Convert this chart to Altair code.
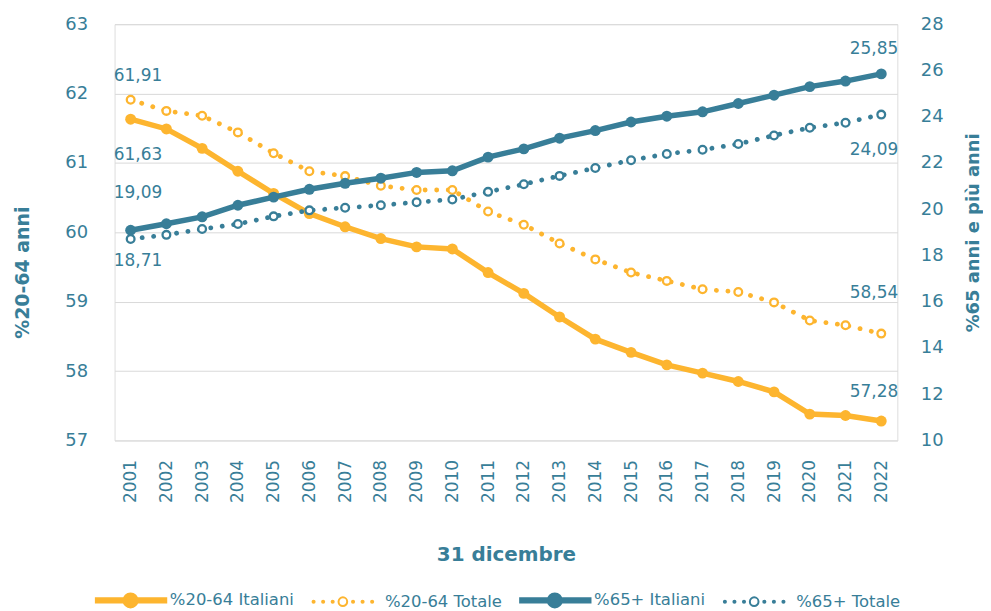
import altair as alt
import pandas as pd

# ---------------- data ----------------
years = [2001, 2002, 2003, 2004, 2005, 2006, 2007, 2008, 2009, 2010, 2011,
         2012, 2013, 2014, 2015, 2016, 2017, 2018, 2019, 2020, 2021, 2022]
ita_2064 = [61.63, 61.49, 61.21, 60.88, 60.56, 60.27, 60.08, 59.91, 59.79, 59.76, 59.42,
            59.12, 58.78, 58.46, 58.27, 58.09, 57.97, 57.85, 57.70, 57.38, 57.36, 57.28]
tot_2064 = [61.91, 61.75, 61.68, 61.44, 61.14, 60.88, 60.81, 60.67, 60.61, 60.61, 60.30,
            60.11, 59.84, 59.61, 59.42, 59.30, 59.18, 59.14, 58.99, 58.73, 58.66, 58.54]
ita_65 = [19.09, 19.37, 19.67, 20.17, 20.52, 20.86, 21.12, 21.34, 21.59, 21.66, 22.25,
          22.61, 23.07, 23.40, 23.77, 24.02, 24.21, 24.57, 24.93, 25.30, 25.54, 25.85]
tot_65 = [18.71, 18.89, 19.14, 19.36, 19.69, 19.95, 20.06, 20.17, 20.30, 20.42, 20.75,
          21.08, 21.44, 21.78, 22.12, 22.39, 22.57, 22.82, 23.19, 23.52, 23.74, 24.09]
series_names = ["%20-64 Italiani", "%20-64 Totale", "%65+ Italiani", "%65+ Totale"]
left_ticks = [57, 58, 59, 60, 61, 62, 63]
right_ticks = [10, 12, 14, 16, 18, 20, 22, 24, 26, 28]

# ---------------- styles ----------------
ORANGE = "#FDB52F"
TEAL = "#387E98"
GRID = "#D9D9D9"
FONT = "DejaVu Sans"

rows = []
for name, vals in zip(series_names, [ita_2064, tot_2064, ita_65, tot_65]):
    for yr, v in zip(years, vals):
        rows.append({"year": str(yr), "series": name, "value": v,
                     "label": f"{v:.2f}".replace(".", ",")})
df = pd.DataFrame(rows)

x_enc = alt.X(
    "year:O",
    scale=alt.Scale(type="point", padding=0.45),
    axis=alt.Axis(
        title="31 dicembre", labelAngle=270, labelFontSize=17, labelColor=TEAL,
        labelFont=FONT, labelPadding=19, ticks=False, tickSize=0, domain=False,
        grid=False, titleFontSize=20, titleFont=FONT, titleFontWeight="bold",
        titleColor=TEAL, titlePadding=42,
    ),
)

y_left = alt.Y(
    "value:Q",
    scale=alt.Scale(domain=[57, 63], nice=False, zero=False),
    axis=alt.Axis(
        orient="left", title="%20-64 anni", values=left_ticks, grid=True,
        gridColor=GRID, gridWidth=1, domain=False, ticks=False, tickSize=0,
        labelFontSize=18, labelColor=TEAL, labelFont=FONT, labelPadding=27,
        titleFontSize=19, titleFont=FONT, titleFontWeight="bold", titleColor=TEAL,
        titlePadding=33, titleY=249,
    ),
)

y_right = alt.Y(
    "value:Q",
    scale=alt.Scale(domain=[10, 28], nice=False, zero=False),
    axis=alt.Axis(
        orient="right", title="%65 anni e più anni", values=right_ticks, grid=False,
        domain=False, ticks=False, tickSize=0, labelFontSize=18, labelColor=TEAL,
        labelFont=FONT, labelPadding=23, titleFontSize=18, titleFont=FONT,
        titleFontWeight="bold", titleColor=TEAL, titlePadding=22, titleAngle=270,
        titleBaseline="top",
    ),
)


def series_layers(name, color, dotted, yenc):
    base = alt.Chart(df).transform_filter(alt.datum.series == name)
    if dotted:
        line = base.mark_line(color=color, strokeWidth=4.8, strokeDash=[0.1, 11.5],
                              strokeCap="round")
        pts = base.mark_point(shape="circle", filled=False, fill="white", stroke=color,
                              strokeWidth=2.3, size=60, opacity=1)
    else:
        line = base.mark_line(color=color, strokeWidth=5.5)
        pts = base.mark_circle(color=color, size=120, opacity=1)
    return [line.encode(x=x_enc, y=yenc), pts.encode(x=x_enc, y=yenc)]


def label_layer(name, year, align, dx, dy, yenc):
    return (
        alt.Chart(df)
        .transform_filter((alt.datum.series == name) & (alt.datum.year == str(year)))
        .mark_text(align=align, baseline="middle", dx=dx, dy=dy, fontSize=17,
                   font=FONT, color=TEAL)
        .encode(x=x_enc, y=yenc, text="label:N")
    )


left = alt.layer(
    *series_layers(series_names[1], ORANGE, True, y_left),
    *series_layers(series_names[0], ORANGE, False, y_left),
    label_layer(series_names[1], 2001, "left", -17, -24, y_left),
    label_layer(series_names[0], 2001, "left", -17, 36, y_left),
    label_layer(series_names[1], 2022, "right", 17, -41, y_left),
    label_layer(series_names[0], 2022, "right", 17, -29, y_left),
)

right = alt.layer(
    *series_layers(series_names[2], TEAL, False, y_right),
    *series_layers(series_names[3], TEAL, True, y_right),
    label_layer(series_names[2], 2001, "left", -17, -37, y_right),
    label_layer(series_names[3], 2001, "left", -17, 22, y_right),
    label_layer(series_names[2], 2022, "right", 17, -25, y_right),
    label_layer(series_names[3], 2022, "right", 17, 36, y_right),
)


# ---------------- legend symbols (line + marker) ----------------
def circ(cx, r):
    return (f"M{cx - r:.3f},0A{r},{r} 0 1,1 {cx + r:.3f},0"
            f"A{r},{r} 0 1,1 {cx - r:.3f},0Z")


SOLID_PATH = "M-1,-0.31L9.09,-0.31L9.09,0.31L-1,0.31Z" + circ(3.97, 1.0)
_c = 3.57
DOT_PATH = circ(_c, 0.62) + "".join(
    circ(_c + s * d, 0.15) for d in (1.46, 2.83, 4.2) for s in (-1, 1)
)

legend_def = alt.Legend(
    title=None, orient="none", legendX=-20, legendY=570, direction="horizontal",
    columns=4, labelFontSize=16.5, labelColor=TEAL, labelFont=FONT, symbolSize=196,
    symbolStrokeWidth=2, labelOffset=59, columnPadding=13,
)

legend_layer = (
    alt.Chart(df)
    .transform_filter("datum.value < 0")
    .mark_point(opacity=1, filled=False)
    .encode(
        color=alt.Color("series:N", scale=alt.Scale(domain=series_names,
                        range=[ORANGE, ORANGE, TEAL, TEAL]), legend=legend_def),
        fill=alt.Fill("series:N", scale=alt.Scale(domain=series_names,
                      range=[ORANGE, "white", TEAL, "white"]), legend=legend_def),
        shape=alt.Shape("series:N", scale=alt.Scale(domain=series_names,
                        range=[SOLID_PATH, DOT_PATH, SOLID_PATH, DOT_PATH]),
                        legend=legend_def),
    )
)

chart = (
    alt.layer(left, right, legend_layer)
    .resolve_scale(y="independent")
    .properties(width=786, height=418,
                padding={"left": 5, "top": 6, "right": 0, "bottom": 0})
    .configure_view(stroke=None)
    .configure(background="white")
)

chart.save("out.html", embed_options={"renderer": "svg", "actions": False})
